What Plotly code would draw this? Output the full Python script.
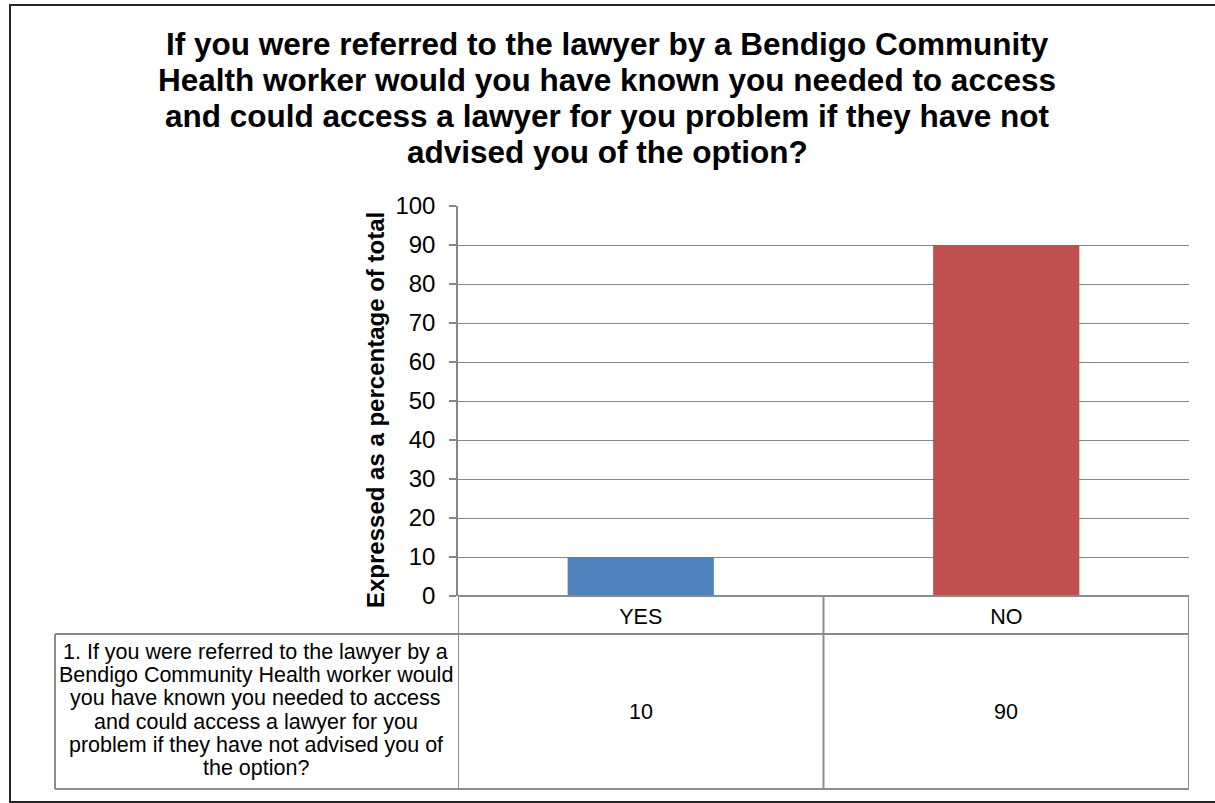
import plotly.graph_objects as go

# ---- data ----
categories = ["YES", "NO"]
values = [10, 90]
bar_colors = ["#4F81BD", "#C0504D"]
series_label_lines = [
    "1. If you were referred to the lawyer by a",
    "Bendigo Community Health worker would",
    "you have known you needed to access",
    "and could access a lawyer for you",
    "problem if they have not advised you of",
    "the option?",
]
title_lines = [
    "If you were referred to the lawyer by a Bendigo Community",
    "Health worker would you have known you needed to access",
    "and could access a lawyer for you problem if they have not",
    "advised you of the option?",
]
y_title = "Expressed as a percentage of total"
y_ticks = list(range(0, 101, 10))

# ---- geometry (pixels) ----
W, H = 1215, 803
L, R, T, B = 458, 1189, 206, 596
pw, ph = R - L, B - T

def px(x):
    return (x - L) / pw

def py(y):
    return (B - y) / ph

FONT = "Liberation Sans, Arial, sans-serif"
GRID = "#868686"
TBL = "#8c8c8c"

fig = go.Figure()
fig.add_trace(go.Bar(x=categories, y=values, marker_color=bar_colors, width=0.4,
                     marker_line_width=0, showlegend=False, hoverinfo="x+y"))

shapes = []
# outer border
shapes.append(dict(type="rect", xref="paper", yref="paper", x0=px(10), x1=px(1240),
                   y0=py(802), y1=py(5), line=dict(color="#262626", width=2)))
# table lines
n = len(categories)
def hline(y, x0, x1, xref="paper"):
    shapes.append(dict(type="line", xref=xref, yref="paper", x0=x0, x1=x1, y0=py(y), y1=py(y),
                       line=dict(color=TBL, width=2)))
def vline(x, y0, y1, xref="x"):
    shapes.append(dict(type="line", xref=xref, yref="paper", x0=x, x1=x, y0=py(y0), y1=py(y1),
                       line=dict(color=TBL, width=2)))
hline(596, 0, 1)
hline(634, px(55), 1)
hline(789, px(55), 1)
for i in range(n + 1):
    vline(i - 0.5, 596, 789)
vline(px(55), 634, 789, xref="paper")

annotations = []
title_y = [44, 80, 116, 152]
for line, yy in zip(title_lines, title_y):
    annotations.append(dict(text=f"<b>{line}</b>", xref="paper", yref="paper", x=px(607), y=py(yy),
                            xanchor="center", yanchor="middle", showarrow=False,
                            font=dict(family=FONT, size=31.5, color="#000000")))
label_y = [652, 675, 698, 722, 745, 768]
for line, yy in zip(series_label_lines, label_y):
    annotations.append(dict(text=line, xref="paper", yref="paper", x=px(256), y=py(yy),
                            xanchor="center", yanchor="middle", showarrow=False,
                            font=dict(family=FONT, size=21.5, color="#000000")))
for c, v in zip(categories, values):
    annotations.append(dict(text=str(v), xref="x", yref="paper", x=c, y=py(712),
                            xanchor="center", yanchor="middle", showarrow=False,
                            font=dict(family=FONT, size=21.5, color="#000000")))
annotations.append(dict(text=f"<b>{y_title}</b>", xref="paper", yref="paper", x=px(375), y=py(410),
                        xanchor="center", yanchor="middle", textangle=-90, showarrow=False,
                        font=dict(family=FONT, size=24, color="#000000")))

fig.update_layout(
    width=W, height=H, autosize=False,
    margin=dict(l=L, r=W - R, t=T, b=H - B),
    paper_bgcolor="white", plot_bgcolor="white",
    shapes=shapes, annotations=annotations,
    bargap=0.6,
    xaxis=dict(type="category", range=[-0.5, n - 0.5], showgrid=False, showline=False, zeroline=False,
               ticks="", tickfont=dict(family=FONT, size=21.5, color="#000000"), ticklabelstandoff=5),
    yaxis=dict(range=[0, 100], tickvals=y_ticks, showgrid=True, gridcolor=GRID, gridwidth=1,
               showline=True, linecolor=GRID, linewidth=1.5, zeroline=False,
               ticks="outside", ticklen=7, tickcolor=GRID, tickwidth=1.5,
               tickfont=dict(family=FONT, size=24, color="#000000"), ticklabelstandoff=9),
)

fig.write_html("out.html")
